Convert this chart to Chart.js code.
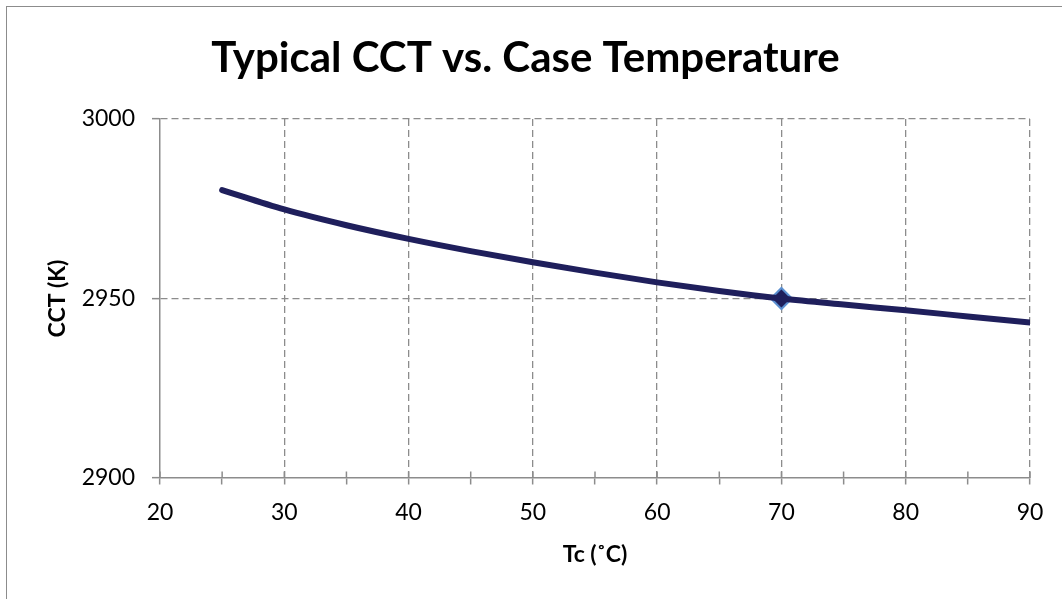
<!DOCTYPE html>
<html>
<head>
<meta charset="utf-8">
<script src="https://cdn.jsdelivr.net/npm/chart.js@4/dist/chart.umd.min.js"></script>
<style>
  html, body { margin: 0; padding: 0; background: #fff; overflow: hidden; }
  #wrap { position: relative; width: 1062px; height: 599px; }
  #frame { position: absolute; left: 6px; top: 6px; width: 1200px; height: 800px; border: 1.5px solid #8c8c8c; }
  canvas { position: absolute; left: 0; top: 0; }
</style>
</head>
<body>
<div id="wrap">
  <div id="frame"></div>
  <canvas id="chart" width="1062" height="599"></canvas>
</div>
<script>
// CCT vs. case temperature
const tempC = [25, 30, 35, 40, 45, 50, 55, 60, 65, 70, 75, 80, 85, 90];
const cctK = [2980.2, 2974.8, 2970.4, 2966.6, 2963.2, 2960.1, 2957.2, 2954.5, 2952.1, 2950.0, 2948.3, 2946.7, 2945.0, 2943.3];
const markerPoint = [{ x: 70, y: 2950 }];
const xTicks = [20, 30, 40, 50, 60, 70, 80, 90];
const yTicks = [2900, 2950, 3000];

const FONT = 'Lato, "Open Sans", sans-serif';
const GRID = '#8c8c8c';

// short tick marks on the inner side of the x axis (Excel "cross" ticks)
const crossTicks = {
  id: 'crossTicks',
  afterDraw(chart) {
    const xs = chart.scales.x;
    const ctx = chart.ctx;
    ctx.save();
    ctx.strokeStyle = GRID;
    ctx.lineWidth = 1.5;
    xs.ticks.forEach(function (t) {
      const px = xs.getPixelForValue(t.value);
      ctx.beginPath();
      ctx.moveTo(px, xs.top);
      ctx.lineTo(px, xs.top - 6.5);
      ctx.stroke();
    });
    ctx.restore();
  }
};

new Chart(document.getElementById('chart'), {
  type: 'line',
  data: {
    datasets: [{
      data: tempC.map(function (t, i) { return { x: t, y: cctK[i] }; }),
      borderColor: '#1f1f5c',
      borderWidth: 6,
      borderCapStyle: 'round',
      cubicInterpolationMode: 'monotone',
      pointRadius: 0,
      fill: false
    }, {
      data: markerPoint,
      showLine: false,
      pointStyle: 'rectRot',
      pointRadius: 10.5,
      pointBackgroundColor: '#1f1f5c',
      pointBorderColor: '#5b8fd0',
      pointBorderWidth: 2
    }]
  },
  options: {
    responsive: false,
    animation: false,
    layout: { padding: { left: 21, right: 32, top: 0, bottom: 0 } },
    plugins: {
      legend: { display: false },
      tooltip: { enabled: false },
      title: {
        display: true,
        text: 'Typical CCT vs. Case Temperature',
        color: '#000',
        font: { family: FONT, size: 42, weight: 'bold', lineHeight: 1.2 },
        padding: { top: 33, bottom: 35.6 }
      }
    },
    scales: {
      x: {
        type: 'linear',
        min: 20,
        max: 90,
        afterFit: function (s) { s.height = 121; },
        afterBuildTicks: function (s) {
          const t = [];
          for (let v = 20; v <= 90; v += 5) t.push({ value: v });
          s.ticks = t;
        },
        ticks: {
          autoSkip: false,
          maxRotation: 0,
          padding: 14,
          color: '#000',
          font: { family: FONT, size: 23 },
          callback: function (v) { return xTicks.indexOf(v) >= 0 ? String(v) : ''; }
        },
        border: { display: true, color: GRID, width: 1.5, dash: [7, 4] },
        grid: {
          drawOnChartArea: true,
          tickLength: 6.5,
          tickColor: GRID,
          tickWidth: 1.5,
          color: function (c) {
            const v = c.tick ? c.tick.value : null;
            return (v !== null && v % 10 === 0 && v !== 20) ? GRID : 'rgba(0,0,0,0)';
          },
          lineWidth: 1.3
        },
        title: {
          display: true,
          text: 'Tc (˚C)',
          color: '#000',
          font: { family: FONT, size: 23, weight: 'bold', lineHeight: 1.2 },
          padding: { top: 0, bottom: 30.8 }
        }
      },
      y: {
        min: 2900,
        max: 3000,
        afterFit: function (s) { s.width = 139; },
        afterBuildTicks: function (s) { s.ticks = yTicks.map(function (v) { return { value: v }; }); },
        ticks: {
          padding: 17,
          color: '#000',
          font: { family: FONT, size: 23 },
          callback: function (v) { return String(v); }
        },
        border: { display: true, color: GRID, width: 1.5, dash: [7, 4] },
        grid: {
          tickLength: 8,
          tickColor: GRID,
          tickWidth: 1.5,
          color: function (c) {
            return (c.tick && c.tick.value === 2900) ? 'rgba(0,0,0,0)' : GRID;
          },
          lineWidth: 1.3
        },
        title: {
          display: true,
          text: 'CCT (K)',
          color: '#000',
          font: { family: FONT, size: 23, weight: 'bold', lineHeight: 1.2 },
          padding: { top: 22.8, bottom: 0 }
        }
      }
    }
  },
  plugins: [crossTicks]
});
</script>
</body>
</html>
